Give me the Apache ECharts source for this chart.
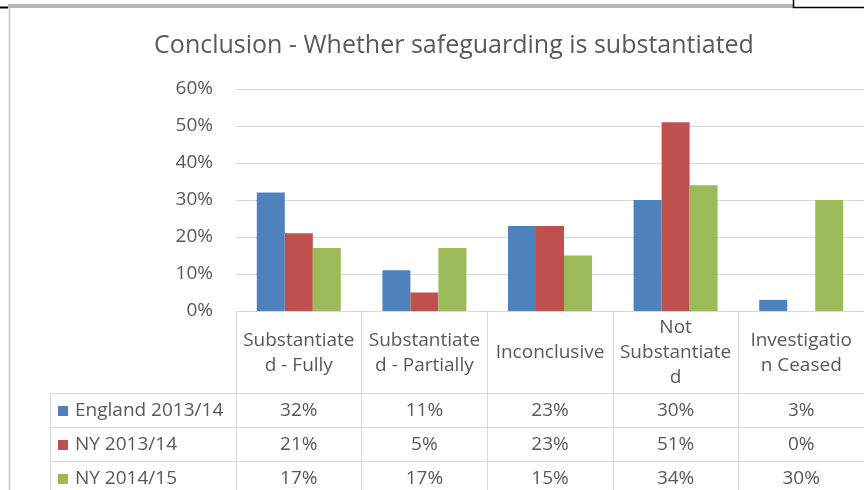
<!DOCTYPE html>
<html>
<head>
<meta charset="utf-8">
<script src="https://cdn.jsdelivr.net/npm/echarts@6/dist/echarts.min.js"></script>
<style>
  html, body { margin: 0; padding: 0; background: #fff; }
  #chart { width: 864px; height: 490px; }
</style>
</head>
<body>
<div id="chart"></div>
<script>
// Category labels, wrapped where the column is too narrow
const categories = [
  'Substantiate\nd - Fully',
  'Substantiate\nd - Partially',
  'Inconclusive',
  'Not\nSubstantiate\nd',
  'Investigatio\nn Ceased'
];
const seriesNames = ['England 2013/14', 'NY 2013/14', 'NY 2014/15'];
const england1314 = [32, 11, 23, 30, 3];
const ny1314 = [21, 5, 23, 51, 0];
const ny1415 = [17, 17, 15, 34, 30];
const seriesValues = [england1314, ny1314, ny1415];
const seriesColors = ['#4f81bd', '#c0504d', '#9bbb59'];
const yMin = 0, yMax = 60, yStep = 10;

const FONT = 'Open Sans';
const TEXT = '#595959';
const LINE = '#d9d9d9';
const LABEL_SIZE = 19;

// Data table geometry (rows under the category header)
const tableLeft = 50;
const rowTops = [393, 427, 461];
const rowHeight = 34;

const chart = echarts.init(document.getElementById('chart'), null, { renderer: 'canvas' });

chart.setOption({
  animation: false,
  backgroundColor: '#fff',
  textStyle: { fontFamily: FONT },
  title: {
    text: 'Conclusion - Whether safeguarding is substantiated',
    left: 449, top: 28, textAlign: 'center',
    textStyle: { fontFamily: FONT, fontSize: 25, fontWeight: 'normal', color: TEXT }
  },
  grid: { left: 236, right: 0, top: 89, bottom: 179, containLabel: false },
  xAxis: {
    type: 'category',
    data: categories,
    axisLine: { show: true, lineStyle: { color: LINE, width: 1 } },
    axisTick: { show: true, inside: false, length: 180, lineStyle: { color: LINE, width: 1 } },
    axisLabel: {
      interval: 0, margin: 42, verticalAlign: 'middle', align: 'center',
      fontFamily: FONT, fontSize: LABEL_SIZE, lineHeight: 25, color: TEXT
    }
  },
  yAxis: {
    type: 'value', min: yMin, max: yMax, interval: yStep,
    axisLine: { show: false }, axisTick: { show: false },
    splitLine: { lineStyle: { color: LINE, width: 1 } },
    axisLabel: {
      formatter: v => v + '%', margin: 23,
      fontFamily: FONT, fontSize: LABEL_SIZE, color: TEXT
    }
  },
  series: seriesNames.map((name, i) => ({
    name, type: 'bar', data: seriesValues[i],
    barWidth: 28, barGap: '0%',
    itemStyle: { color: seriesColors[i] }
  }))
});

// Data table: legend keys, values per category, and grid lines
const font = LABEL_SIZE + 'px "' + FONT + '"';
const graphics = [];
rowTops.forEach(y => {
  graphics.push({ type: 'line', silent: true, z: 5,
    shape: { x1: tableLeft, y1: y + 0.5, x2: 864, y2: y + 0.5 },
    style: { stroke: LINE, lineWidth: 1 } });
});
graphics.push({ type: 'line', silent: true, z: 5,
  shape: { x1: tableLeft + 0.5, y1: rowTops[0], x2: tableLeft + 0.5, y2: 490 },
  style: { stroke: LINE, lineWidth: 1 } });

seriesNames.forEach((name, r) => {
  const cy = rowTops[r] + rowHeight / 2 + 1;
  graphics.push({ type: 'rect', silent: true, z: 6,
    shape: { x: 58, y: cy - 5, width: 10, height: 10 },
    style: { fill: seriesColors[r] } });
  graphics.push({ type: 'text', silent: true, z: 6,
    x: 75, y: cy,
    style: { text: name, fill: TEXT, font, verticalAlign: 'middle', align: 'left' } });
  seriesValues[r].forEach((v, c) => {
    const cx = chart.convertToPixel({ xAxisIndex: 0 }, c);
    graphics.push({ type: 'text', silent: true, z: 6,
      x: cx, y: cy,
      style: { text: v + '%', fill: TEXT, font, verticalAlign: 'middle', align: 'center' } });
  });
});

// Frame of the surrounding sheet
graphics.push({ type: 'rect', silent: true, z: 7,
  shape: { x: 8, y: 4, width: 785, height: 4 },
  style: { fill: '#b8b8b8' } });
graphics.push({ type: 'line', silent: true, z: 7,
  shape: { x1: 0, y1: 7.5, x2: 8, y2: 7.5 },
  style: { stroke: '#000', lineWidth: 2 } });
graphics.push({ type: 'polyline', silent: true, z: 7,
  shape: { points: [[793.5, 0], [793.5, 7.5], [864, 7.5]] },
  style: { stroke: '#000', lineWidth: 1.5, fill: null } });
graphics.push({ type: 'line', silent: true, z: 7,
  shape: { x1: 9.5, y1: 8, x2: 9.5, y2: 490 },
  style: { stroke: '#d0d0d0', lineWidth: 2 } });

chart.setOption({ graphic: graphics });
</script>
</body>
</html>
